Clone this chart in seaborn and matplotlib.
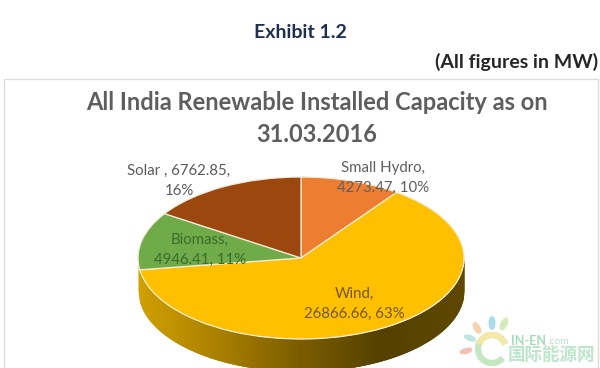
#!/usr/bin/python3
import numpy as np
from matplotlib import pyplot as plt
from matplotlib.patches import Arc, Ellipse, Rectangle
import seaborn as sns

names = ['Small Hydro', 'Wind', 'Biomass', 'Solar']
values = [4273.47, 26866.66, 4946.41, 6762.85]
percents = [10, 63, 11, 16]
colors = ['#ED7D31', '#FFC000', '#6FAB48', '#9C470E']

label_lines = [
    ['Small Hydro,', '4273.47, 10%'],
    ['Wind,', '26866.66, 63%'],
    ['Biomass,', '4946.41, 11%'],
    ['Solar , 6762.85,', '16%'],
]
label_pos = [(383, 168), (354, 294), (200, 240), (179, 171)]
label_colors = ['#5f5f5f', '#75561a', '#3c6b2c', '#5a5a5a']

sns.set_theme(style='white')
plt.rcParams['font.family'] = ['Lato', 'DejaVu Sans']

W, H = 600, 368
fig = plt.figure(figsize=(W / 100, H / 100), dpi=100, facecolor='white')

# the pie lives in its own axes, squashed to an ellipse
cx, cy, rx, ry = 301, 258, 163, 81
y_low = -1.4
pie_ax = fig.add_axes([(cx - rx) / W, (H - cy + y_low * ry) / H, 2 * rx / W, (1 - y_low) * ry / H])
pie_ax.pie(values, colors=colors, startangle=90, counterclock=False, radius=1,
           wedgeprops={'edgecolor': '#f4ecd8', 'linewidth': 0.9, 'zorder': 5})
pie_ax.set_aspect('auto')
pie_ax.set_xlim(-1, 1)
pie_ax.set_ylim(y_low, 1)
pie_ax.axis('off')

# side of the disc, shaded from gold on the left to dark brown on the right
depth = 0.40
side = sns.blend_palette(['#d0a000', '#a87f00', '#7a5c00', '#544000', '#5e4800'], 160)
edges = np.linspace(-1, 1, len(side) + 1)
for i, c in enumerate(side):
    # each strip runs over the next one so no seams show
    xs = np.linspace(edges[i], min(edges[i + 1] + 0.02, 1), 6)
    top = -np.sqrt(np.clip(1 - xs ** 2, 0, 1))
    pie_ax.fill_between(xs, top, top - depth, color=c, linewidth=0, zorder=2)

# page overlay in pixel coordinates
ax = fig.add_axes([0, 0, 1, 1], facecolor='none')
ax.set_xlim(0, W)
ax.set_ylim(H, 0)
ax.axis('off')

ax.add_patch(Rectangle((4, 79), 594, 300, fill=False, edgecolor='#dcdcdc', linewidth=1))

ax.text(300, 32, 'Exhibit 1.2', ha='center', va='center', fontsize=14, fontweight='bold', color='#1f2f50')
ax.text(598, 62, '(All figures in MW)', ha='right', va='center', fontsize=14, fontweight='bold', color='#262626')
ax.text(317, 103, 'All India Renewable Installed Capacity as on', ha='center', va='center',
        fontsize=17, fontweight='bold', color='#5e5e5e')
ax.text(317, 135, '31.03.2016', ha='center', va='center', fontsize=17, fontweight='bold', color='#5e5e5e')

for lines, pos, c in zip(label_lines, label_pos, label_colors):
    ax.text(pos[0], pos[1], lines[0], ha='center', va='center', fontsize=10.8, color=c, zorder=6)
    ax.text(pos[0], pos[1] + 20, lines[1], ha='center', va='center', fontsize=10.8, color=c, zorder=6)

# faint watermark, bottom right
petals = [(477, 328, 13, 7, 60, '#f6d3b0'), (492, 323, 7, 14, 0, '#aadcf0'), (504, 324, 7, 14, 25, '#d4ebb8'),
          (470, 338, 13, 6, 20, '#bfe6de'), (466, 351, 13, 6, -15, '#f4c0b6')]
for x, y, w, h, a, c in petals:
    ax.add_patch(Ellipse((x, y), w, h, angle=a, facecolor=c, edgecolor='none', zorder=7))
ax.add_patch(Arc((492, 349), 28, 28, theta1=40, theta2=340, edgecolor='#c4e6c0', linewidth=4.5, zorder=7))
ax.add_patch(Arc((492, 349), 28, 28, theta1=200, theta2=340, edgecolor='#f4e8a8', linewidth=4.5, zorder=7))
ax.text(511, 341, 'IN-EN', ha='left', va='center', fontsize=9, fontweight='bold', color='#a8dcbc', zorder=7)
ax.text(547, 342, '.com', ha='left', va='center', fontsize=7.5, color='#b8e2c8', zorder=7)
ax.text(508, 355, '国际能源网', ha='left', va='center', fontsize=12.6, fontweight='bold', color='#bde5cb', zorder=7,
        family=['Noto Sans CJK SC', 'DejaVu Sans'])

fig.savefig('out.png', dpi=100)
